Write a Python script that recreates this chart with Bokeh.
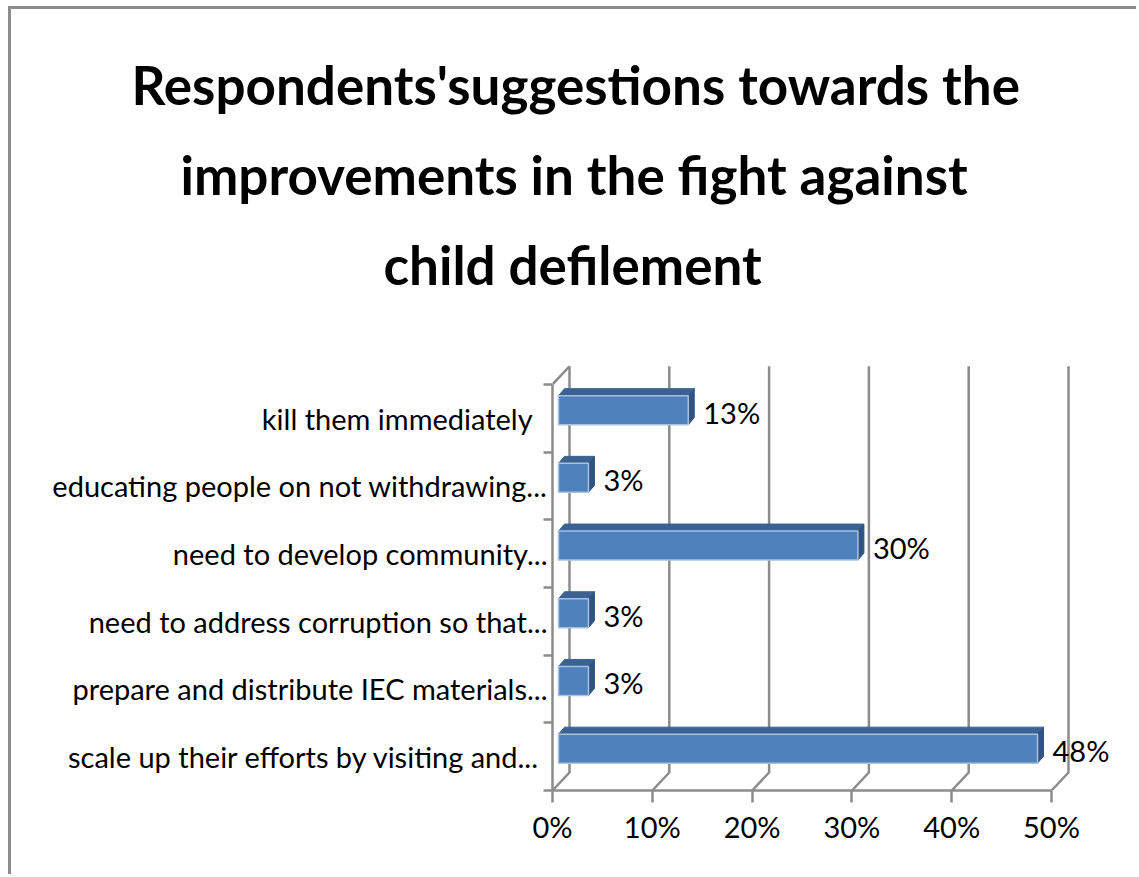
from bokeh.plotting import figure
from bokeh.models import Range1d, FixedTicker, Title, ColumnDataSource
from bokeh.core.properties import value
from bokeh.embed import file_html
from bokeh.resources import INLINE

# ---------------- data ----------------
categories = [
    "kill them immediately  ",
    "educating people on not withdrawing...",
    "need to develop community...",
    "need to address corruption so that...",
    "prepare and distribute IEC materials...",
    "scale up their efforts  by visiting and...",
]
percentages = [13, 3, 30, 3, 3, 48]
x_ticks = [0, 10, 20, 30, 40, 50]
x_tick_labels = ["0%", "10%", "20%", "30%", "40%", "50%"]
title_lines = [
    "Respondents'suggestions towards the",
    "improvements in the fight against",
    "child defilement",
]

# ---------------- layout (page pixels) ----------------
FONT = "Lato"
OX, OY = 11, 9                      # figure origin on the page (after border)
W, H = 1139 - OX, 877 - OY
FL, FR, FT, FB = 552, 1125, 340, 790  # frame edges on the page
PX_X = 9.98      # px per percent
PX_Y = 67.7      # px per category
x_end = (FR - FL) / PX_X
y_end = (FB - FT) / PX_Y

# 3-D depth (converted to data units)
DX, DY = 17 / PX_X, 18 / PX_Y          # wall depth
BFX, BFY = 6 / PX_X, 8 / PX_Y          # bar front-face offset
BDX, BDY = 6 / PX_X, 7 / PX_Y          # bar depth
BH = 29 / PX_Y                          # bar thickness

GRID = "#8C8C8C"

p = figure(width=W, height=H, output_backend="svg", toolbar_location=None,
           x_range=Range1d(0, x_end), y_range=Range1d(0, y_end),
           min_border_left=FL - OX, min_border_right=1139 - FR,
           min_border_top=FT - OY, min_border_bottom=877 - FB, title=None)
p.outline_line_color = None
p.grid.visible = False
p.background_fill_color = "white"
p.border_fill_color = "white"
p.styles = {"margin-left": "8px", "margin-top": "6px",
            "border-left": "3px solid #8C8C8C", "border-top": "3px solid #8C8C8C"}

n = len(categories)
cats_bottom_up = categories[::-1]
vals_bottom_up = percentages[::-1]
centers = [i + 0.5 for i in range(n)]

# ---- walls / gridlines ----
gxs, gys = [], []
for t in x_ticks:
    gxs.append([t, t + DX, t + DX])
    gys.append([0, DY, n + DY])
gxs.append([0, DX]); gys.append([n, n + DY])
p.multi_line(gxs, gys, line_color=GRID, line_width=2.5)

# ---- bars ----
fx, fy, tx, ty, sx, sy = [], [], [], [], [], []
for c, v in zip(centers, vals_bottom_up):
    x0, x1 = BFX, v + BFX
    y0, y1 = c + BFY - BH / 2, c + BFY + BH / 2
    fx.append([x0, x1, x1, x0]); fy.append([y0, y0, y1, y1])
    tx.append([x0, x1, x1 + BDX, x0 + BDX]); ty.append([y1, y1, y1 + BDY, y1 + BDY])
    sx.append([x1, x1 + BDX, x1 + BDX, x1]); sy.append([y0, y0 + BDY, y1 + BDY, y1])
p.patches(tx, ty, fill_color="#3B6292", line_color="#3B6292", line_width=1)
p.patches(sx, sy, fill_color="#2F5382", line_color="#2F5382", line_width=1)
p.patches(fx, fy, fill_color="#4F81BD", line_color="#A9C0DE", line_width=1.5)

# ---- value labels ----
src = ColumnDataSource(dict(
    x=[v + BFX + BDX for v in vals_bottom_up],
    y=[c + BFY for c in centers],
    t=[f"{v}%" for v in vals_bottom_up]))
p.text(x="x", y="y", text="t", source=src, x_offset=9, y_offset=2, text_baseline="middle",
       text_align="left", text_font=value(FONT), text_font_size="29px", text_color="black")

# ---- axes ----
xa = p.xaxis[0]
xa.ticker = FixedTicker(ticks=x_ticks)
xa.major_label_overrides = {t: l for t, l in zip(x_ticks, x_tick_labels)}
xa.bounds = (0, 50)
xa.axis_line_color = GRID
xa.axis_line_width = 2.5
xa.major_tick_line_color = GRID
xa.major_tick_line_width = 2.5
xa.major_tick_out = 12
xa.major_tick_in = 0
xa.minor_tick_line_color = None
xa.major_label_standoff = 6
xa.major_label_text_font = FONT
xa.major_label_text_font_size = "29px"
xa.major_label_text_color = "black"

ya = p.yaxis[0]
ya.ticker = FixedTicker(ticks=centers, minor_ticks=list(range(n + 1)))
ya.major_label_overrides = {c: lab for c, lab in zip(centers, cats_bottom_up)}
ya.bounds = (0, n)
ya.axis_line_color = GRID
ya.axis_line_width = 2.5
ya.major_tick_line_color = None
ya.major_tick_out = 0
ya.minor_tick_line_color = GRID
ya.minor_tick_line_width = 2.5
ya.minor_tick_out = 9
ya.minor_tick_in = 0
ya.major_label_standoff = -4
ya.major_label_text_font = FONT
ya.major_label_text_font_size = "29px"
ya.major_label_text_color = "black"

# ---- title (three lines, last line nearest the plot) ----
# spacer between plot and title block
p.add_layout(Title(text=" ", text_font_size="1px", standoff=29), "above")
TITLE_LEFT = [131, 180, 383]
for line, left in list(zip(title_lines, TITLE_LEFT))[::-1]:
    p.add_layout(Title(text=line, align="left", offset=left - FL,
                       text_font=FONT, text_font_size="53px", text_font_style="bold",
                       text_color="black", standoff=25), "above")

open("out.html", "w").write(file_html(p, INLINE))
